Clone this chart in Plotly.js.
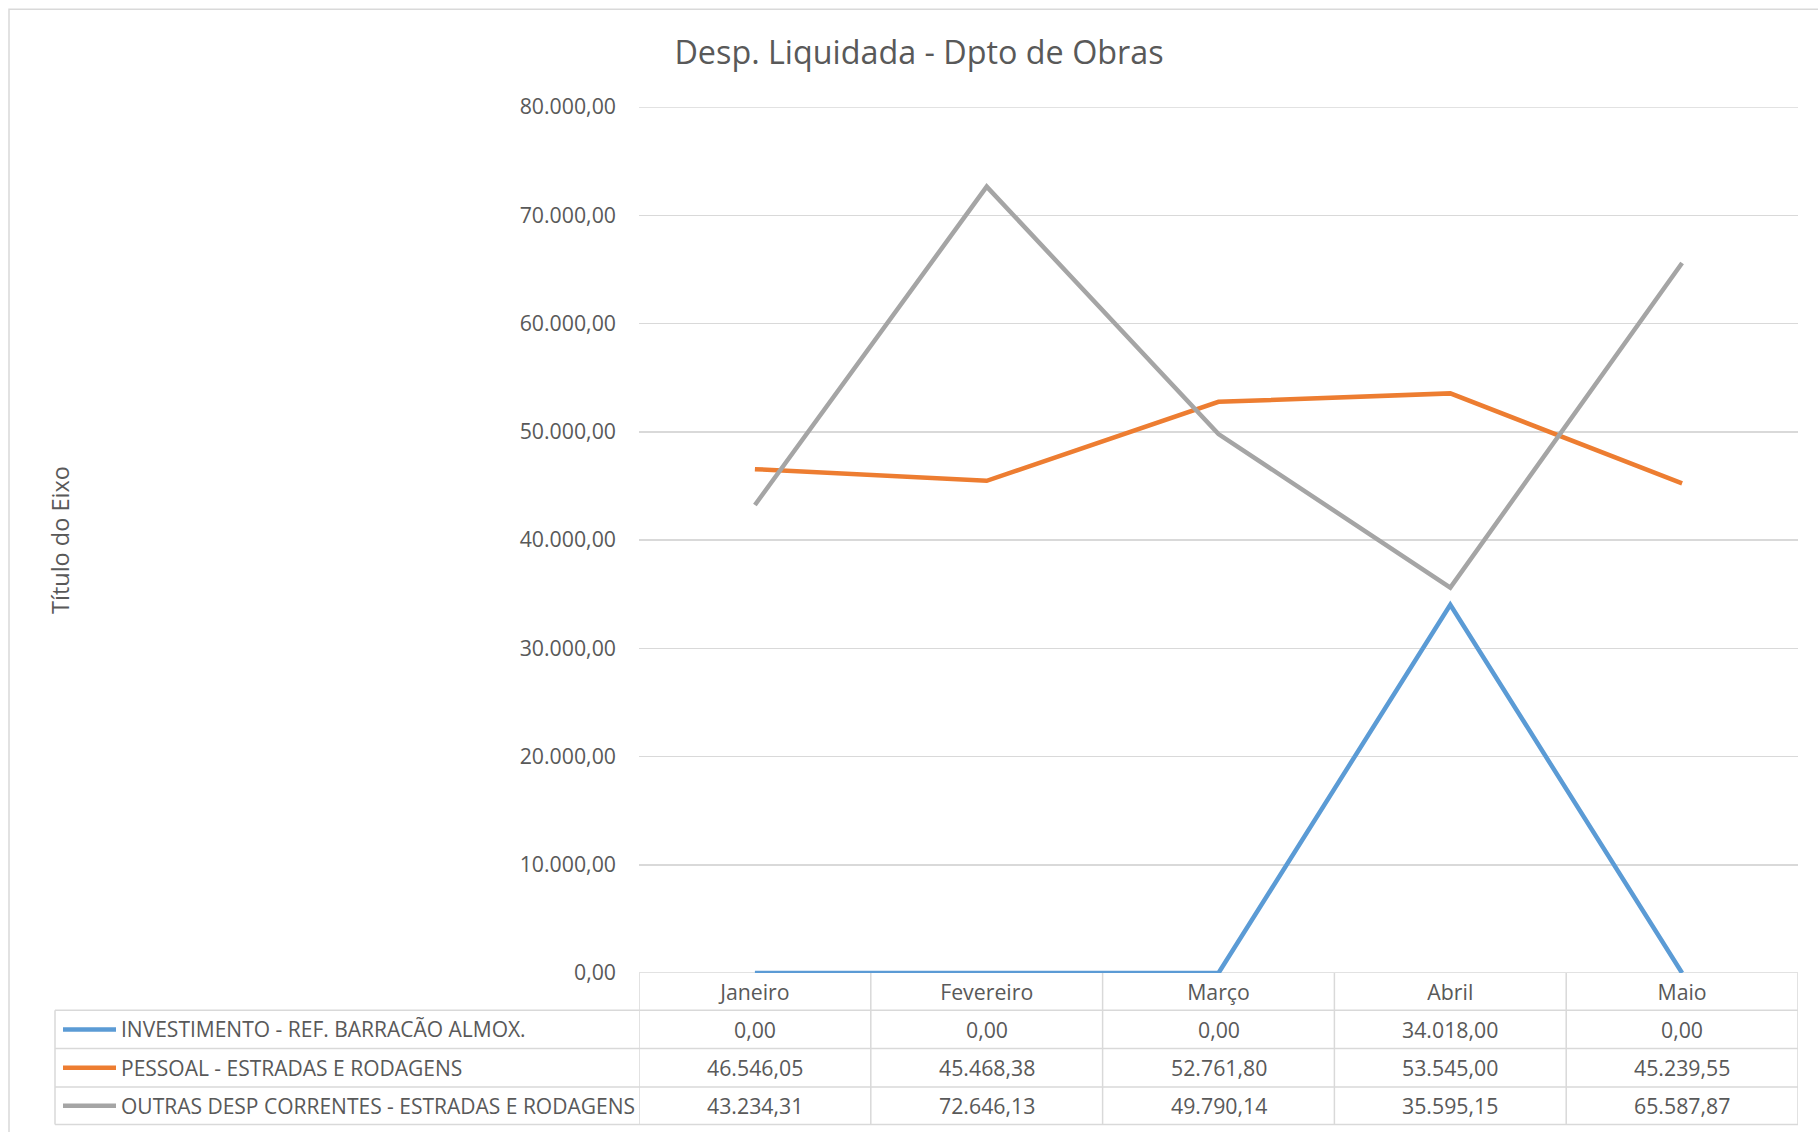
<!DOCTYPE html>
<html>
<head>
<meta charset="utf-8">
<script src="https://cdn.plot.ly/plotly-3.0.1.min.js"></script>
<style>html,body{margin:0;padding:0;background:#fff;}#chart{width:1818px;height:1132px;}</style>
</head>
<body>
<div id="chart"></div>
<script>
const categories = ["Janeiro", "Fevereiro", "Março", "Abril", "Maio"];
const seriesNames = ["INVESTIMENTO - REF. BARRACÃO ALMOX.", "PESSOAL - ESTRADAS E RODAGENS", "OUTRAS DESP CORRENTES - ESTRADAS E RODAGENS"];
const investimento = [0, 0, 0, 34018.00, 0];
const pessoal = [46546.05, 45468.38, 52761.80, 53545.00, 45239.55];
const outras = [43234.31, 72646.13, 49790.14, 35595.15, 65587.87];
const seriesColors = ["#5B9BD5", "#ED7D31", "#A5A5A5"];
const chartTitle = "Desp. Liquidada - Dpto de Obras";
const yTitle = "Título do Eixo";
const yRange = [0, 80000];

const W = 1818, H = 1132;
const L = 639, R = 1798, T = 106.7, B = 972.7;
const pw = R - L, ph = B - T;
const px2x = p => (p - L) / pw;
const py2y = p => (B - p) / ph;

function fmt(v) {
  const s = v.toFixed(2);
  let [ip, dp] = s.split(".");
  ip = ip.replace(/\B(?=(\d{3})+(?!\d))/g, ".");
  return ip + "," + dp;
}

const allSeries = [investimento, pessoal, outras];
const FONT = "Open Sans, sans-serif";
const TXT = "#595959";
const GRID = "#D9D9D9";
const FS = 21.3;

const traces = allSeries.map((vals, i) => ({
  type: "scatter", mode: "lines", name: seriesNames[i],
  x: categories, y: vals,
  line: {color: seriesColors[i], width: 4.5},
  hoverinfo: "x+y+name"
}));

const rowLines = [1010, 1048.3, 1086.7, 1124.3];
const tableLeft = 55;
const shapes = [];
shapes.push({type: "rect", xref: "paper", yref: "paper", x0: px2x(9), x1: px2x(W + 20), y0: py2y(9), y1: py2y(H + 20), line: {color: GRID, width: 1.5}, layer: "below"});
yRange.forEach(v => {
  shapes.push({type: "line", xref: "paper", yref: "y", x0: 0, x1: 1, y0: v, y1: v, line: {color: GRID, width: 1.5}, layer: "below"});
});
for (let k = 0; k <= categories.length; k++) {
  shapes.push({type: "line", xref: "x", yref: "paper", x0: k - 0.5, x1: k - 0.5, y0: py2y(B), y1: py2y(rowLines[3]), line: {color: GRID, width: 1.5}});
}
rowLines.forEach(ry => {
  shapes.push({type: "line", xref: "paper", yref: "paper", x0: px2x(tableLeft), x1: 1, y0: py2y(ry), y1: py2y(ry), line: {color: GRID, width: 1.5}});
});
shapes.push({type: "line", xref: "paper", yref: "paper", x0: px2x(tableLeft), x1: px2x(tableLeft), y0: py2y(rowLines[0]), y1: py2y(rowLines[3]), line: {color: GRID, width: 1.5}});

const annotations = [];
const rowCenters = [0, 1, 2].map(i => (rowLines[i] + rowLines[i + 1]) / 2);
allSeries.forEach((vals, i) => {
  shapes.push({type: "line", xref: "paper", yref: "paper", x0: px2x(63), x1: px2x(116), y0: py2y(rowCenters[i]), y1: py2y(rowCenters[i]), line: {color: seriesColors[i], width: 4.5}});
  annotations.push({xref: "paper", yref: "paper", x: px2x(119), y: py2y(rowCenters[i]), xanchor: "left", yanchor: "middle", text: seriesNames[i], showarrow: false, font: {family: FONT, size: 21, color: TXT}});
  vals.forEach((v, j) => {
    annotations.push({xref: "x", yref: "paper", x: categories[j], y: py2y(rowCenters[i]), xanchor: "center", yanchor: "middle", text: fmt(v), showarrow: false, font: {family: FONT, size: FS, color: TXT}});
  });
});
annotations.push({xref: "paper", yref: "paper", x: px2x(60), y: 0.5, xanchor: "center", yanchor: "middle", textangle: -90, text: yTitle, showarrow: false, font: {family: FONT, size: 23.5, color: TXT}});

const layout = {
  width: W, height: H,
  margin: {l: L, r: W - R, t: T, b: H - B, pad: 0},
  paper_bgcolor: "#fff", plot_bgcolor: "#fff",
  separators: ",.",
  showlegend: false,
  title: {text: chartTitle, x: 919 / W, xref: "container", xanchor: "center", y: 1 - 52.5 / H, yref: "container", yanchor: "middle", font: {family: FONT, size: 32.3, color: TXT}},
  xaxis: {type: "category", range: [-0.5, 4.5], showgrid: false, zeroline: false, showline: false, ticks: "", ticklabelstandoff: 5, tickfont: {family: FONT, size: FS, color: TXT}, fixedrange: true},
  yaxis: {range: yRange, dtick: 10000, tick0: 0, tickformat: ",.2f", showgrid: true, gridcolor: GRID, gridwidth: 1.5, zeroline: false, showline: false, ticks: "", ticklabelstandoff: 22, tickfont: {family: FONT, size: FS, color: TXT}, fixedrange: true},
  shapes: shapes,
  annotations: annotations
};

Plotly.newPlot("chart", traces, layout, {displayModeBar: false, staticPlot: true});
</script>
</body>
</html>
